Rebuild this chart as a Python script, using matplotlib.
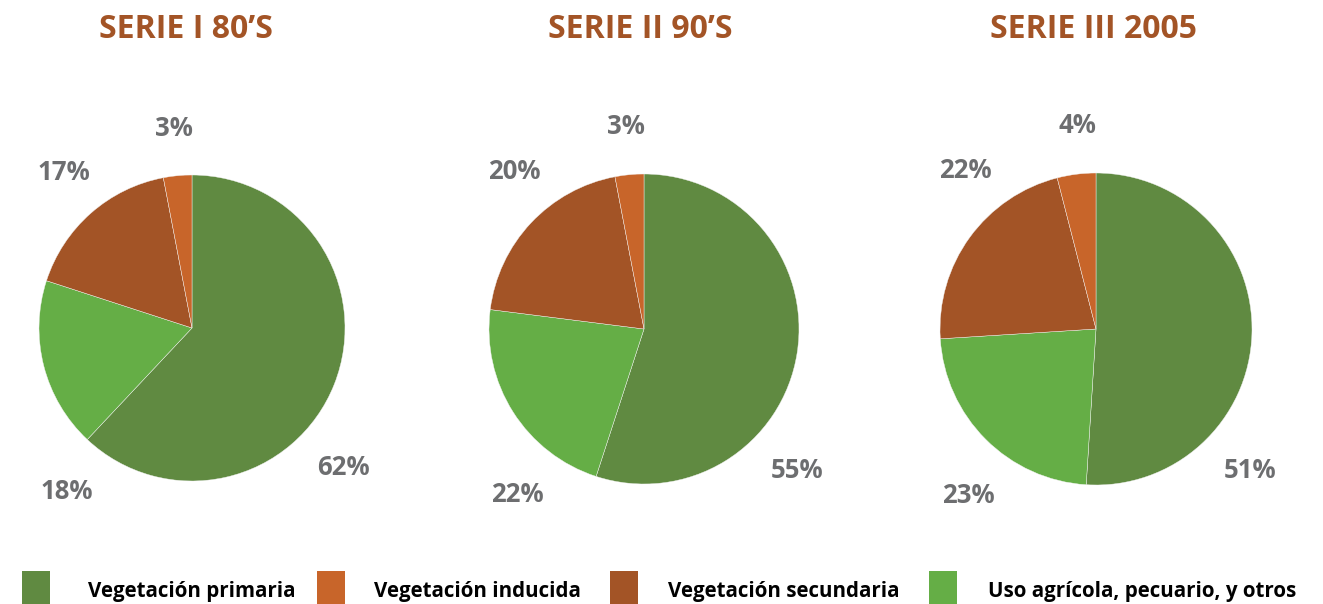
import numpy as np
import matplotlib.pyplot as plt
from matplotlib.patches import Rectangle

plt.rcParams['font.family'] = ['Open Sans', 'DejaVu Sans']

titles = ["SERIE I 80\u2019S", "SERIE II 90\u2019S", "SERIE III 2005"]
categories = ["Vegetación primaria", "Uso agrícola, pecuario, y otros",
              "Vegetación secundaria", "Vegetación inducida"]
serie_1 = [62, 18, 17, 3]
serie_2 = [55, 22, 20, 3]
serie_3 = [51, 23, 22, 4]
legend_order = ["Vegetación primaria", "Vegetación inducida",
                "Vegetación secundaria", "Uso agrícola, pecuario, y otros"]

colors = {"Vegetación primaria": "#608a41",
          "Uso agrícola, pecuario, y otros": "#65ae46",
          "Vegetación secundaria": "#a35426",
          "Vegetación inducida": "#c8652a"}
title_color = "#a35426"
label_color = "#6d6e70"

# label placement (angle in degrees, distance in radii), same for each pie
label_angles = [-42, -128, 129, 95]
label_dist = 1.33

W, H = 1323, 604
fig = plt.figure(figsize=(W / 100, H / 100), dpi=100)

centers = [(192, 328, 153), (644, 329, 155), (1096, 329, 156)]
title_x = [186, 640, 1093]
lim = 1.6
for data, title, (cx, cy, r), tx in zip([serie_1, serie_2, serie_3], titles, centers, title_x):
    half = r * lim
    ax = fig.add_axes([(cx - half) / W, (H - cy - half) / H, 2 * half / W, 2 * half / H])
    ax.pie(data, colors=[colors[c] for c in categories], startangle=90,
           counterclock=False, radius=1,
           wedgeprops=dict(linewidth=0.3, edgecolor='#f4f4f4'))
    ax.set_xlim(-lim, lim)
    ax.set_ylim(-lim, lim)
    ax.set_aspect('equal')
    ax.axis('off')
    for v, a in zip(data, label_angles):
        ax.text(label_dist * np.cos(np.radians(a)), label_dist * np.sin(np.radians(a)) - 0.02,
                f"{v}%", ha='center', va='center', fontsize=18.5, fontweight='bold',
                color=label_color)
    fig.text(tx / W, 1 - 29 / H, title, ha='center', va='center', fontsize=23,
             fontweight='bold', color=title_color)

# legend
sq_x = [22, 317, 610, 929]
txt_x = [88, 374, 668, 988]
for c, sx, txx in zip(legend_order, sq_x, txt_x):
    fig.patches.append(Rectangle((sx / W, 0), 28 / W, 33 / H, transform=fig.transFigure,
                                 facecolor=colors[c], edgecolor='none'))
    fig.text(txx / W, 1 - 591 / H, c, ha='left', va='center', fontsize=14.8,
             fontweight='bold', color='black')

fig.savefig('out.png', dpi=100)
